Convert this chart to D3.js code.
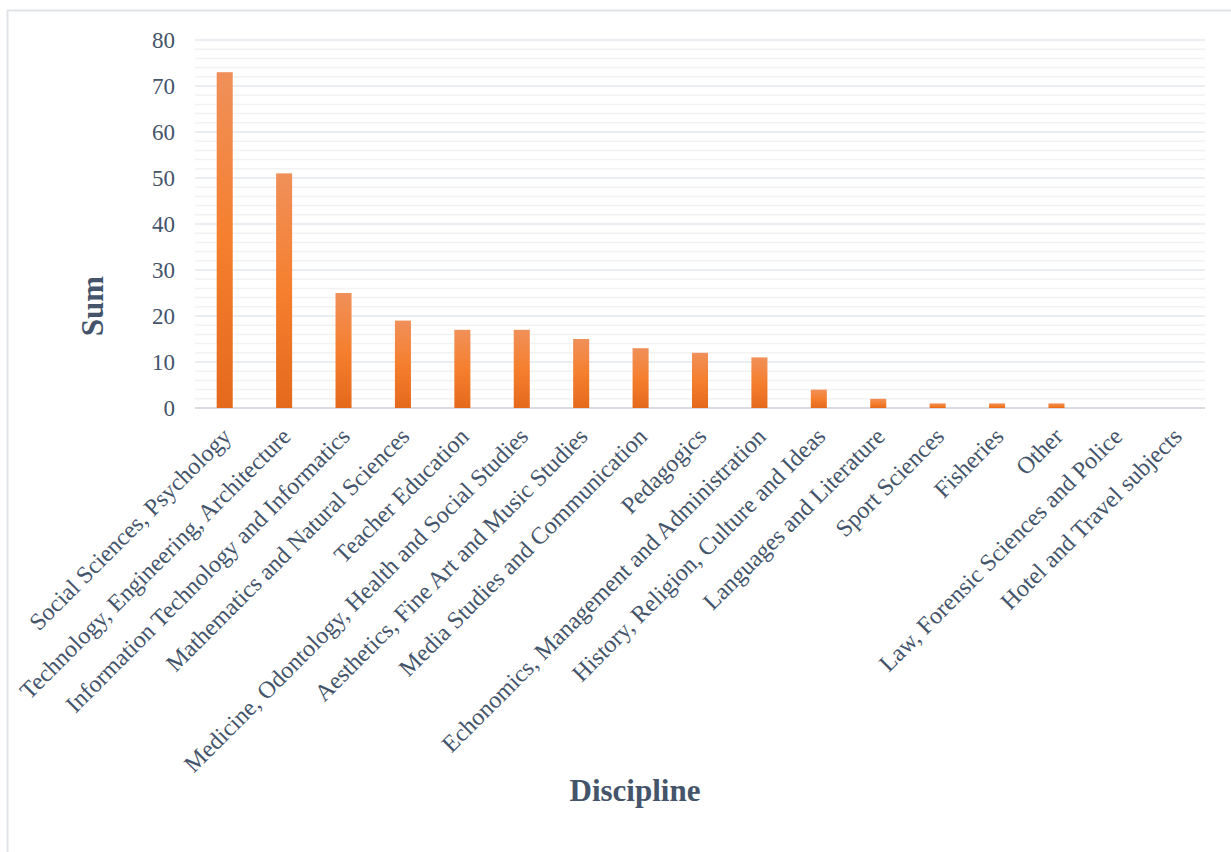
<!DOCTYPE html>
<html>
<head>
<meta charset="utf-8">
<script src="https://cdn.jsdelivr.net/npm/d3@7"></script>
<style>
  body { margin: 0; background: #fff; }
  text { font-family: "Liberation Serif", "Times New Roman", serif; fill: #44546a; }
</style>
</head>
<body>
<div id="chart"></div>
<script>
// Discipline chart

var disciplines = [
  "Social Sciences, Psychology",
  "Technology, Engineering, Architecture",
  "Information Technology and Informatics",
  "Mathematics and Natural Sciences",
  "Teacher Education",
  "Medicine, Odontology, Health and Social Studies",
  "Aesthetics, Fine Art and Music Studies",
  "Media Studies and Communication",
  "Pedagogics",
  "Echonomics, Management and Administration",
  "History, Religion, Culture and Ideas",
  "Languages and Literature",
  "Sport Sciences",
  "Fisheries",
  "Other",
  "Law, Forensic Sciences and Police",
  "Hotel and Travel subjects"
];
var sums = [73, 51, 25, 19, 17, 17, 15, 13, 12, 11, 4, 2, 1, 1, 1, 0, 0];
var yTicks = [0, 10, 20, 30, 40, 50, 60, 70, 80];

var svgWidth = 1231;
var svgHeight = 852;

var margin = { top: 40, right: 26, bottom: 444, left: 195 };
var width = svgWidth - margin.left - margin.right;
var height = svgHeight - margin.top - margin.bottom;

var svg = d3.select("#chart").append("svg")
  .attr("width", svgWidth)
  .attr("height", svgHeight);

// frame
svg.append("path")
  .attr("d", "M7.5,852 V10.5 H1231")
  .attr("fill", "none")
  .attr("stroke", "#dfe3e8")
  .attr("stroke-width", 2);

var defs = svg.append("defs");
var grad = defs.append("linearGradient")
  .attr("id", "barGrad")
  .attr("x1", 0).attr("y1", 0).attr("x2", 0).attr("y2", 1);
grad.append("stop").attr("offset", "0%").attr("stop-color", "#f0905a");
grad.append("stop").attr("offset", "50%").attr("stop-color", "#f57f2e");
grad.append("stop").attr("offset", "100%").attr("stop-color", "#e5691d");

var chartGroup = svg.append("g")
  .attr("transform", `translate(${margin.left}, ${margin.top})`);

var xScale = d3.scaleBand()
  .domain(disciplines)
  .range([0, width])
  .paddingInner(0.73)
  .paddingOuter(0.365);

var yScale = d3.scaleLinear()
  .domain([0, 80])
  .range([height, 0]);

// minor gridlines
chartGroup.append("g")
  .selectAll("line")
  .data(d3.range(0, 81, 2).filter(d => d % 10 !== 0))
  .enter()
  .append("line")
  .attr("x1", 0)
  .attr("x2", width)
  .attr("y1", d => yScale(d))
  .attr("y2", d => yScale(d))
  .attr("stroke", "#f2f2f2")
  .attr("stroke-width", 1.5);

// major gridlines
chartGroup.append("g")
  .selectAll("line")
  .data(yTicks)
  .enter()
  .append("line")
  .attr("x1", 0)
  .attr("x2", width)
  .attr("y1", d => yScale(d))
  .attr("y2", d => yScale(d))
  .attr("stroke", d => d === 0 ? "#d9dde3" : "#e3e7ec")
  .attr("stroke-width", d => d === 0 ? 2 : 1.5);

// y axis labels
var leftAxis = d3.axisLeft(yScale)
  .tickValues(yTicks)
  .tickSize(0)
  .tickPadding(20);

var yAxis = chartGroup.append("g")
  .call(leftAxis);
yAxis.select(".domain").remove();
yAxis.selectAll("text")
  .attr("font-size", "23px")
  .attr("font-family", "Liberation Serif, Times New Roman, serif")
  .attr("fill", "#44546a");

// bars
chartGroup.selectAll("rect.bar")
  .data(sums)
  .enter()
  .append("rect")
  .classed("bar", true)
  .attr("x", (d, i) => xScale(disciplines[i]))
  .attr("y", d => yScale(d))
  .attr("width", xScale.bandwidth())
  .attr("height", d => height - yScale(d))
  .attr("fill", "url(#barGrad)");

// x labels
chartGroup.append("g")
  .selectAll("text")
  .data(disciplines)
  .enter()
  .append("text")
  .attr("transform", d => `translate(${xScale(d) + xScale.bandwidth() / 2 + 2}, ${height + 24}) rotate(-45)`)
  .attr("text-anchor", "end")
  .attr("dy", "0.35em")
  .attr("font-size", "24px")
  .text(d => d);

// axis titles
svg.append("text")
  .attr("transform", `translate(103, 306) rotate(-90)`)
  .attr("text-anchor", "middle")
  .attr("font-size", "31px")
  .attr("font-weight", "bold")
  .text("Sum");

svg.append("text")
  .attr("x", 635)
  .attr("y", 801)
  .attr("text-anchor", "middle")
  .attr("font-size", "31px")
  .attr("font-weight", "bold")
  .text("Discipline");
</script>
</body>
</html>
